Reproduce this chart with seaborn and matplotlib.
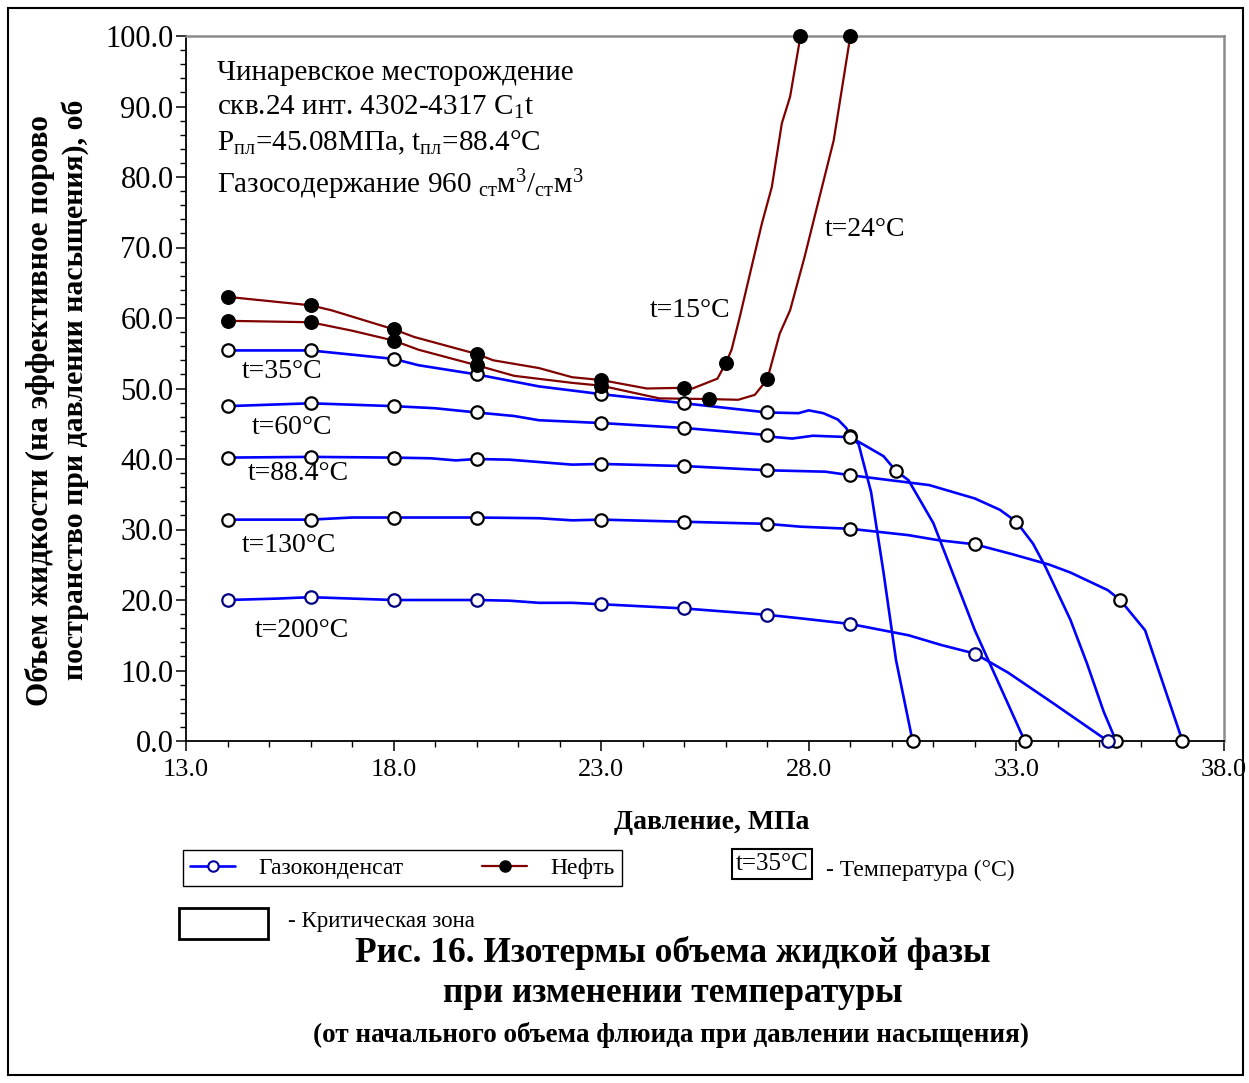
import numpy as np
import matplotlib.pyplot as plt
import seaborn as sns
from matplotlib.lines import Line2D
from matplotlib.patches import Rectangle

sns.set_theme(style='ticks')
plt.rcParams['font.family'] = ['Liberation Serif', 'DejaVu Serif']
plt.rcParams['mathtext.fontset'] = 'custom'
plt.rcParams['mathtext.rm'] = 'Liberation Serif'
plt.rcParams['mathtext.it'] = 'Liberation Serif:italic'
plt.rcParams['mathtext.bf'] = 'Liberation Serif:bold'
plt.rcParams['text.color'] = 'black'
plt.rcParams['axes.labelcolor'] = 'black'
plt.rcParams['xtick.color'] = 'black'
plt.rcParams['ytick.color'] = 'black'

# --- data (pressure MPa, liquid volume %) ---
# gas condensate isotherms, m = 1 where a marker is drawn
gc35_p = [14, 16, 18, 18.6, 20, 21.5, 23, 25, 27, 27.75, 28.0, 28.35, 28.7, 28.9, 29.0, 29.2, 29.5, 29.8, 30.1, 30.5]
gc35_v = [55.4, 55.4, 54.2, 53.3, 52.0, 50.3, 49.2, 47.9, 46.6, 46.5, 46.9, 46.5, 45.6, 44.4, 43.3, 42.1, 35.3, 23.9, 11.5, 0.0]
gc35_m = [1, 1, 1, 0, 1, 0, 1, 1, 1, 0, 0, 0, 0, 0, 1, 0, 0, 0, 0, 1]

gc60_p = [14, 16, 18, 19.0, 20, 20.9, 21.5, 23, 25, 27, 27.2, 27.6, 28.1, 29.0, 29.3, 29.8, 30.1, 30.4, 31.0, 32.0, 33.2]
gc60_v = [47.5, 47.9, 47.5, 47.2, 46.6, 46.1, 45.5, 45.1, 44.4, 43.4, 43.1, 42.9, 43.3, 43.1, 42.1, 40.4, 38.3, 37.0, 30.9, 15.7, 0.0]
gc60_m = [1, 1, 1, 0, 1, 0, 0, 1, 1, 1, 0, 0, 0, 1, 0, 0, 1, 0, 0, 0, 1]

gc88_p = [14, 16, 18, 18.9, 19.5, 20, 20.8, 22.3, 23, 25, 27, 28.4, 29, 30.9, 32.0, 32.6, 33.0, 33.4, 33.7, 34.3, 34.7, 35.1, 35.4]
gc88_v = [40.2, 40.3, 40.2, 40.1, 39.8, 40.0, 39.9, 39.2, 39.3, 39.0, 38.4, 38.2, 37.7, 36.3, 34.4, 32.8, 31.1, 28.0, 24.7, 17.2, 11.0, 4.2, 0.0]
gc88_m = [1, 1, 1, 0, 0, 1, 0, 0, 1, 1, 1, 0, 1, 0, 0, 0, 1, 0, 0, 0, 0, 0, 1]

gc130_p = [14, 16, 17, 18, 20, 21.5, 22.3, 23, 25, 27, 27.8, 29, 30.4, 31.1, 32.0, 32.9, 33.8, 34.3, 35.2, 35.5, 36.1, 37.0]
gc130_v = [31.4, 31.4, 31.7, 31.7, 31.7, 31.6, 31.3, 31.4, 31.1, 30.8, 30.4, 30.1, 29.2, 28.5, 27.9, 26.5, 25.0, 23.9, 21.4, 20.0, 15.7, 0.0]
gc130_m = [1, 1, 0, 1, 1, 0, 0, 1, 1, 1, 0, 1, 0, 0, 1, 0, 0, 0, 0, 1, 0, 1]

gc200_p = [14, 15.2, 16, 17, 18, 20, 20.8, 21.5, 22.3, 23, 25, 27, 27.8, 29, 30.4, 31.2, 32.0, 32.8, 33.9, 35.2]
gc200_v = [20.0, 20.2, 20.4, 20.2, 20.0, 20.0, 19.9, 19.6, 19.6, 19.4, 18.8, 17.9, 17.4, 16.6, 15.0, 13.6, 12.4, 9.7, 5.3, 0.0]
gc200_m = [1, 0, 1, 0, 1, 1, 0, 0, 0, 1, 1, 1, 0, 1, 0, 0, 1, 0, 0, 1]

# oil isotherms
oil15_p = [14, 16, 16.5, 18, 18.5, 19.0, 20, 20.4, 21.5, 22.3, 23, 24.1, 25, 25.2, 25.8, 26.0, 26.14, 26.34, 26.66, 26.87, 27.11, 27.35, 27.55, 27.8]
oil15_v = [63.0, 61.8, 61.1, 58.4, 57.3, 56.5, 54.9, 54.0, 52.9, 51.6, 51.2, 50.0, 50.1, 50.0, 51.4, 53.6, 55.5, 60.2, 68.2, 73.4, 78.6, 87.6, 91.4, 100.0]
oil15_m = [1, 1, 0, 1, 0, 0, 1, 0, 0, 0, 1, 0, 1, 0, 0, 1, 0, 0, 0, 0, 0, 0, 0, 1]

oil24_p = [14, 16, 17.0, 18, 18.6, 20, 20.9, 22.3, 23, 24.4, 25.6, 26.3, 26.7, 27.0, 27.3, 27.55, 27.9, 28.2, 28.6, 29.0]
oil24_v = [59.6, 59.4, 58.2, 56.8, 55.5, 53.3, 51.8, 50.8, 50.4, 48.6, 48.5, 48.4, 49.1, 51.3, 57.8, 61.1, 68.7, 75.8, 85.2, 100.0]
oil24_m = [1, 1, 0, 1, 0, 1, 0, 0, 1, 0, 1, 0, 0, 1, 0, 0, 0, 0, 0, 1]

x_ticks = [13.0, 18.0, 23.0, 28.0, 33.0, 38.0]
y_ticks = [0, 10, 20, 30, 40, 50, 60, 70, 80, 90, 100]

# curve labels: text, pressure, volume
curve_labels = [
    ('t=35°C', 14.34, 52.4),
    ('t=60°C', 14.58, 44.5),
    ('t=88.4°C', 14.5, 37.9),
    ('t=130°C', 14.34, 27.8),
    ('t=200°C', 14.66, 15.7),
    ('t=15°C', 24.18, 61.1),
    ('t=24°C', 28.39, 72.5),
]

W, H = 1249, 1083


def fx(px):
    return px / W


def fy(py):
    return 1 - py / H


fig = plt.figure(figsize=(W / 100, H / 100), dpi=100)
fig.patch.set_facecolor('white')
ax = fig.add_axes([fx(186), fy(741), fx(1224) - fx(186), fy(36) - fy(741)])
ax.set_facecolor('white')

BLUE = '#0000FF'
MAROON = '#800000'

gas = [(gc35_p, gc35_v, gc35_m, 'black'),
       (gc60_p, gc60_v, gc60_m, 'black'),
       (gc88_p, gc88_v, gc88_m, 'black'),
       (gc130_p, gc130_v, gc130_m, 'black'),
       (gc200_p, gc200_v, gc200_m, '#000080')]
for p, v, m, ec in gas:
    sns.lineplot(x=p, y=v, ax=ax, color=BLUE, linewidth=1.9, sort=False, estimator=None, zorder=2)
    mk = np.array(m, dtype=bool)
    ax.scatter(np.array(p)[mk], np.array(v)[mk], s=80, facecolor='white', edgecolor=ec,
               linewidth=1.6, zorder=4, clip_on=False)

for p, v, m in [(oil15_p, oil15_v, oil15_m), (oil24_p, oil24_v, oil24_m)]:
    sns.lineplot(x=p, y=v, ax=ax, color=MAROON, linewidth=1.6, sort=False, estimator=None, zorder=3)
    mk = np.array(m, dtype=bool)
    ax.scatter(np.array(p)[mk], np.array(v)[mk], s=95, facecolor='black', edgecolor='black',
               linewidth=1.0, zorder=5, clip_on=False)

ax.set_xlim(13, 38)
ax.set_ylim(0, 100)
ax.set_xticks(x_ticks)
ax.set_xticklabels([f'{t:.1f}' for t in x_ticks], fontsize=19)
ax.set_xticks(np.arange(13, 39, 1), minor=True)
ax.set_yticks(y_ticks)
ax.set_yticklabels([f'{t:.1f}' for t in y_ticks], fontsize=22)
ax.set_yticks(np.arange(0, 101, 2), minor=True)
ax.tick_params(which='major', direction='out', length=7, width=1.1, color='black')
ax.tick_params(which='minor', direction='out', length=4.5, width=1.0, color='black')
ax.tick_params(axis='x', which='major', pad=6)
ax.tick_params(axis='y', which='major', pad=2)
ax.set_xlabel('')
ax.set_ylabel('')

for side in ['left', 'bottom']:
    ax.spines[side].set_color('black')
    ax.spines[side].set_linewidth(1.3)
for side in ['top', 'right']:
    ax.spines[side].set_visible(True)
    ax.spines[side].set_color('#8c8c8c')
    ax.spines[side].set_linewidth(1.8)

for txt, px, vy in curve_labels:
    ax.text(px, vy, txt, fontsize=20, ha='left', va='center', color='black')

# annotation block
ax_info = [
    'Чинаревское месторождение',
    r'скв.24 инт. 4302-4317 C$_{1}$t',
    r'P$_{\mathrm{пл}}$=45.08МПа, t$_{\mathrm{пл}}$=88.4°C',
    r'Газосодержание 960 $_{\mathrm{ст}}$м$^{3}$/$_{\mathrm{ст}}$м$^{3}$',
]
for txt, py in zip(ax_info, [73, 107, 143, 185]):
    fig.text(fx(217), fy(py), txt, fontsize=21, ha='left', va='center')

# axis titles
ax.set_xlabel('Давление, МПа', fontsize=20, fontweight='bold', va='top')
ax.xaxis.set_label_coords(0.506, -(810 - 741) / 705)
fig.text(fx(40), fy(411), 'Объем жидкости (на эффективное порово', rotation=90,
         fontsize=22.5, fontweight='bold', ha='center', va='center')
fig.text(fx(75), fy(390), 'постранство при давлении насыщения), об', rotation=90,
         fontsize=21.5, fontweight='bold', ha='center', va='center')

# legend
gc_handle = Line2D([], [], color=BLUE, lw=1.9, marker='o', ms=7.5, mfc='white', mec='#0000A0', mew=1.5)
oil_handle = Line2D([], [], color=MAROON, lw=1.6, marker='o', ms=8, mfc='black', mec='black')
leg = fig.legend([gc_handle, oil_handle], ['Газоконденсат', 'Нефть'], loc='center',
                 bbox_to_anchor=(fx(183), fy(888), fx(622) - fx(183), fy(848) - fy(888)),
                 mode='expand', ncol=2, frameon=True, fancybox=False, edgecolor='black',
                 framealpha=1, fontsize=17, handlelength=1.9, handletextpad=1.0,
                 borderpad=0.3, borderaxespad=0)
leg.get_frame().set_linewidth(1.0)

fig.text(fx(772), fy(864), 't=35°C', fontsize=18, ha='center', va='center',
         bbox=dict(boxstyle='square,pad=0.15', fc='white', ec='black', lw=1.5))
fig.text(fx(826), fy(870), '- Температура (°C)', fontsize=17, ha='left', va='center')

fig.patches.append(Rectangle((fx(179), fy(939)), fx(268) - fx(179), fy(908) - fy(939),
                             transform=fig.transFigure, fill=False, ec='black', lw=2.0))
fig.text(fx(288), fy(921), '- Критическая зона', fontsize=16.5, ha='left', va='center')

# caption
fig.text(fx(673), fy(953), 'Рис. 16. Изотермы объема жидкой фазы', fontsize=25.5,
         fontweight='bold', ha='center', va='center')
fig.text(fx(673), fy(994), 'при изменении температуры', fontsize=25.5,
         fontweight='bold', ha='center', va='center')
fig.text(fx(671), fy(1035), '(от начального объема флюида при давлении насыщения)', fontsize=19.5,
         fontweight='bold', ha='center', va='center')

# outer chart border
fig.patches.append(Rectangle((fx(8), fy(1075)), fx(1243) - fx(8), fy(8) - fy(1075),
                             transform=fig.transFigure, fill=False, ec='black', lw=1.5))

fig.savefig('out.png', dpi=100)
